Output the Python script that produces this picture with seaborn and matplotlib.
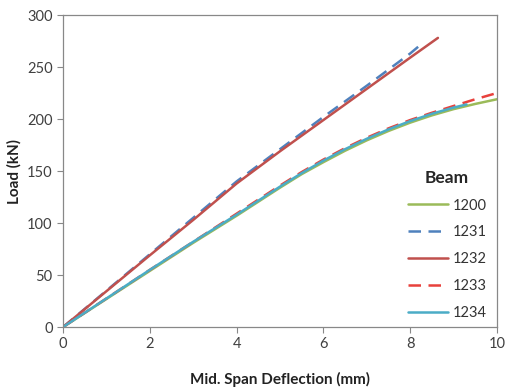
import numpy as np
import pandas as pd
import matplotlib
matplotlib.use('Agg')
import matplotlib.pyplot as plt
import seaborn as sns

# Load-deflection curves
defl_1200 = [0, 1, 2, 3, 4, 5, 5.5, 6, 6.5, 7, 7.5, 8, 8.5, 9, 9.5, 10]
load_1200 = [0, 27, 54, 81, 107, 134, 147, 158.5, 169.5, 179.5, 188.5, 196.5, 203.5, 209.5, 214.5, 219]

defl_1231 = [0, 1, 2, 3, 4, 5, 6, 7, 8, 8.2]
load_1231 = [0, 35, 70, 105, 140, 171, 202, 232, 263, 270]

defl_1232 = [0, 1, 2, 3, 4, 5, 6, 7, 8, 8.64]
load_1232 = [0, 34.5, 69, 103, 138, 169, 199, 229, 259, 278]

defl_1233 = [0, 1, 2, 3, 4, 5, 5.5, 6, 6.5, 7, 7.5, 8, 8.5, 9, 9.5, 10]
load_1233 = [0, 27.5, 55, 82, 109, 136, 149, 161, 172, 182, 191, 199, 206, 212.5, 219, 225]

defl_1234 = [0, 1, 2, 3, 4, 5, 5.5, 6, 6.5, 7, 7.5, 8, 8.5, 9, 9.3]
load_1234 = [0, 27.5, 55, 82, 108, 135, 148, 160, 171, 181, 190, 198, 205, 211, 214]

beams = ['1200', '1231', '1232', '1233', '1234']
colors = ['#9BBB59', '#4F81BD', '#C0504D', '#E8413C', '#4BACC6']
styles = ['-', (0, (5, 3)), '-', (0, (5, 3)), '-']

frames = []
for name, d, l in zip(beams,
                      [defl_1200, defl_1231, defl_1232, defl_1233, defl_1234],
                      [load_1200, load_1231, load_1232, load_1233, load_1234]):
    frames.append(pd.DataFrame({'defl': d, 'load': l, 'beam': name}))
df = pd.concat(frames, ignore_index=True)

sns.set_style('white')
plt.rcParams['font.family'] = ['Lato', 'DejaVu Sans']

fig = plt.figure(figsize=(5.05, 3.9), dpi=100)
ax = fig.add_axes([0.125, 0.1615, 0.859, 0.80])

for name, c, ls in zip(beams, colors, styles):
    sub = df[df['beam'] == name]
    sns.lineplot(data=sub, x='defl', y='load', ax=ax, color=c,
                 linestyle=ls, linewidth=1.8, label=name, sort=False)

ax.set_xlim(0, 10)
ax.set_ylim(0, 300)
ax.set_xticks([0, 2, 4, 6, 8, 10])
ax.set_yticks([0, 50, 100, 150, 200, 250, 300])
ax.tick_params(axis='both', labelsize=10.5, colors='#404040', direction='out',
               length=4, width=0.8, color='#888888', bottom=True, left=True)
for s in ax.spines.values():
    s.set_color('#888888')
    s.set_linewidth(0.9)

ax.set_xlabel('Mid. Span Deflection (mm)', fontsize=11, fontweight='bold',
              color='#222222', labelpad=15)
ax.set_ylabel('Load (kN)', fontsize=11, fontweight='bold',
              color='#222222', labelpad=4)

leg = ax.legend(title='Beam', loc='lower right', bbox_to_anchor=(1.0, -0.01),
                frameon=False, fontsize=10.5, handlelength=2.8,
                labelspacing=0.88, handletextpad=0.3, borderaxespad=0.3)
leg.get_title().set_fontweight('bold')
leg.get_title().set_fontsize(12.5)
for t in leg.get_texts():
    t.set_color('#333333')

fig.savefig('out.png', dpi=100)
